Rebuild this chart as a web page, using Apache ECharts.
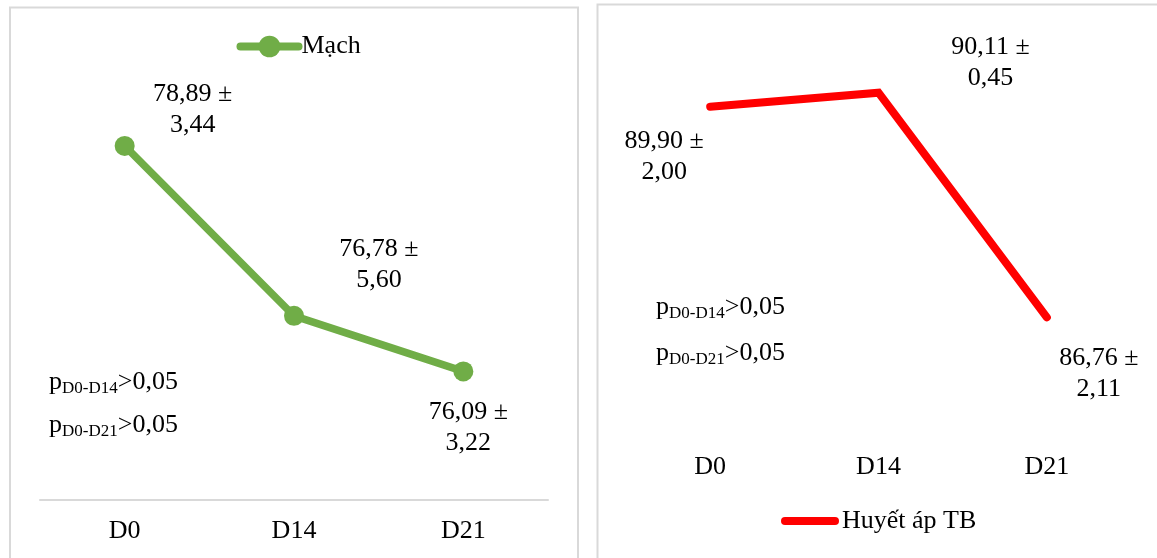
<!DOCTYPE html>
<html>
<head>
<meta charset="utf-8">
<script src="https://cdn.jsdelivr.net/npm/echarts@6/dist/echarts.min.js"></script>
<style>
  html, body { margin: 0; padding: 0; background: #fff; }
  #chart { width: 1157px; height: 558px; }
</style>
</head>
<body>
<div id="chart"></div>
<script>
// Measurement days
const days = ['D0', 'D14', 'D21'];

// Pulse (Mạch): mean and SD per day
const pulseName = 'Mạch';
const pulseMean = [78.89, 76.78, 76.09];
const pulseSd = [3.44, 5.60, 3.22];

// Mean arterial pressure (Huyết áp TB): mean and SD per day
const mapName = 'Huyết áp TB';
const mapMean = [89.90, 90.11, 86.76];
const mapSd = [2.00, 0.45, 2.11];

// Significance notes: comparison pair and p result
const pPairs = ['D0-D14', 'D0-D21'];
const pResults = ['>0,05', '>0,05'];

const FONT = "'Liberation Serif', 'Times New Roman', serif";
const fmt = v => v.toFixed(2).replace('.', ',');

// where each value label sits relative to its point
const pulseLabelShift = [[68, -36], [85, -51], [5, 56]];
const mapLabelShift = [[-46, 50], [112, -30], [52, 56]];

function labelFor(means, sds) {
  return {
    show: true,
    position: 'inside',
    color: '#000',
    fontFamily: FONT,
    fontSize: 26,
    lineHeight: 31,
    align: 'center',
    verticalAlign: 'middle',
    formatter: p => fmt(means[p.dataIndex]) + ' ±\n' + fmt(sds[p.dataIndex])
  };
}

function pNote(x, y, i) {
  return {
    type: 'text',
    x: x, y: y,
    silent: true,
    style: {
      text: '{m|p}{s|' + pPairs[i] + '}{m|' + pResults[i] + '}',
      align: 'left',
      verticalAlign: 'middle',
      rich: {
        m: { fontSize: 26, fontFamily: FONT, lineHeight: 30, fill: '#000' },
        s: { fontSize: 17, fontFamily: FONT, lineHeight: 21, verticalAlign: 'bottom', fill: '#000' }
      }
    }
  };
}

const axisLabel = { color: '#000', fontFamily: FONT, fontSize: 26, margin: 19 };

const chart = echarts.init(document.getElementById('chart'), null, { renderer: 'canvas' });
chart.setOption({
  animation: false,
  backgroundColor: '#fff',
  grid: [
    { left: 40, top: 56.5, width: 508, height: 443 },
    { left: 626, top: 33, width: 505, height: 402.3 }
  ],
  xAxis: [
    {
      gridIndex: 0, type: 'category', data: days, boundaryGap: true,
      axisLine: { show: true, lineStyle: { color: '#d9d9d9', width: 2 } },
      axisTick: { show: false }, axisLabel: axisLabel
    },
    {
      gridIndex: 1, type: 'category', data: days, boundaryGap: true,
      axisLine: { show: false }, axisTick: { show: false }, axisLabel: axisLabel
    }
  ],
  yAxis: [
    { gridIndex: 0, type: 'value', min: 74.5, max: 80, show: false, splitLine: { show: false } },
    { gridIndex: 1, type: 'value', min: 85, max: 91, show: false, splitLine: { show: false } }
  ],
  legend: [
    {
      data: [pulseName],
      left: 236.5, top: 33.5, padding: 0,
      itemWidth: 58, itemHeight: 27,
      lineStyle: { width: 8, cap: 'round' },
      textStyle: { color: '#000', fontFamily: FONT, fontSize: 26, padding: [0, 0, 0, -2] }
    },
    {
      data: [{ name: mapName, icon: 'path://M4,0L54,0A4,4,0,0,1,54,8L4,8A4,4,0,0,1,4,0Z' }],
      left: 781, top: 508, padding: 0,
      itemWidth: 58, itemHeight: 8,
      textStyle: { color: '#000', fontFamily: FONT, fontSize: 26, padding: [0, 0, 0, -2] }
    }
  ],
  series: [
    {
      name: pulseName, type: 'line',
      xAxisIndex: 0, yAxisIndex: 0,
      symbol: 'circle', symbolSize: 20,
      itemStyle: { color: '#70AD47' },
      lineStyle: { color: '#70AD47', width: 7.5, cap: 'round', join: 'round' },
      label: labelFor(pulseMean, pulseSd),
      data: pulseMean.map((v, i) => ({ value: v, label: { offset: pulseLabelShift[i] } }))
    },
    {
      name: mapName, type: 'line',
      xAxisIndex: 1, yAxisIndex: 1,
      symbol: 'circle', symbolSize: 0.1,
      itemStyle: { color: '#FF0000' },
      lineStyle: { color: '#FF0000', width: 8, cap: 'round', join: 'miter' },
      label: labelFor(mapMean, mapSd),
      data: mapMean.map((v, i) => ({ value: v, label: { offset: mapLabelShift[i] } }))
    }
  ],
  graphic: [
    { type: 'rect', silent: true, z: -1,
      shape: { x: 10, y: 7.5, width: 568, height: 600 },
      style: { fill: 'none', stroke: '#d9d9d9', lineWidth: 2 } },
    { type: 'rect', silent: true, z: -1,
      shape: { x: 597.5, y: 4.5, width: 620, height: 600 },
      style: { fill: 'none', stroke: '#d9d9d9', lineWidth: 2 } },
    pNote(49, 381.7, 0),
    pNote(49, 425, 1),
    pNote(656, 306.7, 0),
    pNote(656, 353.3, 1)
  ]
});
</script>
</body>
</html>
